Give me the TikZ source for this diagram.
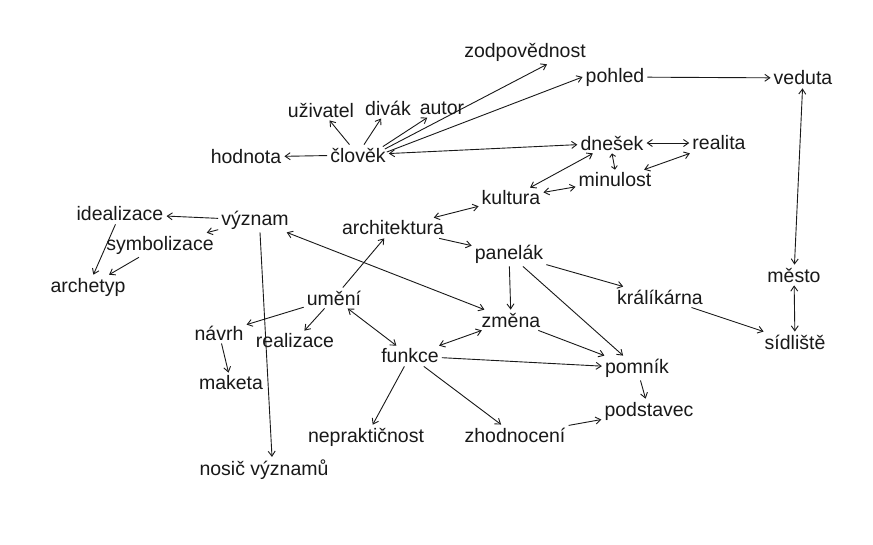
\documentclass[tikz,border=0pt]{standalone}
\usepackage{fontspec}
\setmainfont{Liberation Sans}
\usetikzlibrary{arrows.meta}
\begin{document}
\begin{tikzpicture}[x=1pt,y=-1pt,
  w/.style={inner sep=3pt, font=\fontsize{19.5}{22}\selectfont, text=black!90},
  e/.style={line width=0.9pt, draw=black!90, -{Straight Barb[length=5pt,width=7pt]}},
  ee/.style={line width=0.9pt, draw=black!90, {Straight Barb[length=5pt,width=7pt]}-{Straight Barb[length=5pt,width=7pt]}},
  es/.style={line width=0.9pt, draw=black!90, {Straight Barb[length=3pt,width=6pt]}-{Straight Barb[length=3pt,width=6pt]}}]
\useasboundingbox[fill=white] (0,0) rectangle (873,544);
% nodes
\node[w] (zodp) at (525,52) {zodpovědnost};
\node[w] (pohled) at (615,77) {pohled};
\node[w] (veduta) at (803,78) {veduta};
\node[w] (uziv) at (321,110) {uživatel};
\node[w] (divak) at (388,108) {divák};
\node[w] (autor) at (442,108) {autor};
\node[w] (hodnota) at (246,157) {hodnota};
\node[w] (clovek) at (358,155) {člověk};
\node[w] (dnesek) at (612,143) {dnešek};
\node[w] (realita) at (719,143) {realita};
\node[w] (minulost) at (615,180) {minulost};
\node[w] (kultura) at (511,198) {kultura};
\node[w] (ideal) at (120,214) {idealizace};
\node[w] (vyznam) at (255,220) {význam};
\node[w] (symbol) at (160,245) {symbolizace};
\node[w] (archit) at (393,228) {architektura};
\node[w] (archetyp) at (88,287) {archetyp};
\node[w] (panelak) at (509,254) {panelák};
\node[w] (umeni) at (334,298) {umění};
\node[w] (kralik) at (660,297) {králíkárna};
\node[w] (mesto) at (794,275) {město};
\node[w] (zmena) at (511,320) {změna};
\node[w] (navrh) at (219,333) {návrh};
\node[w] (realiz) at (295,341) {realizace};
\node[w] (sidliste) at (795,342) {sídliště};
\node[w] (funkce) at (410,356) {funkce};
\node[w] (pomnik) at (637,368) {pomník};
\node[w] (maketa) at (231,383) {maketa};
\node[w] (podstavec) at (649,411) {podstavec};
\node[w] (neprak) at (366,437) {nepraktičnost};
\node[w] (zhodn) at (515,435) {zhodnocení};
\node[w] (nosic) at (264,470) {nosič významů};
% edges
\draw[e] (clovek) -- (hodnota);
\draw[e] (clovek) -- (uziv);
\draw[e] ([xshift=6pt]clovek.north) -- (divak);
\draw[e] ([xshift=-6pt,yshift=-2pt]clovek.north east) -- (autor);
\draw[e] ([xshift=-4pt,yshift=6pt]clovek.east) -- ([xshift=22pt]zodp.south);
\draw[e] ([xshift=-2pt,yshift=3pt]clovek.east) -- (pohled.west);
\draw[ee] (clovek) -- (dnesek);
\draw[e] (pohled) -- (veduta);
\draw[ee] (dnesek) -- (realita);
\draw[es] (dnesek.south) -- (minulost.north);
\draw[ee] (dnesek) -- (kultura);
\draw[ee] (minulost) -- (realita);
\draw[ee] (kultura) -- (minulost);
\draw[ee] (kultura) -- (archit);
\draw[ee] (veduta) -- (mesto);
\draw[ee] (mesto) -- (sidliste);
\draw[e] (vyznam) -- (ideal);
\draw[e] (vyznam) -- (symbol);
\draw[e] (ideal) -- (archetyp);
\draw[e] (symbol) -- (archetyp);
\draw[e] ([xshift=5pt]vyznam.south) -- ([xshift=8pt]nosic.north);
\draw[ee] (vyznam) -- (zmena);
\draw[e] (umeni) -- (archit);
\draw[e] (archit) -- (panelak);
\draw[e] (umeni) -- (navrh);
\draw[e] (umeni) -- (realiz);
\draw[ee] (umeni) -- (funkce);
\draw[e] (navrh) -- (maketa);
\draw[e] (panelak) -- (zmena);
\draw[e] (panelak) -- (pomnik);
\draw[e] (panelak) -- (kralik);
\draw[e] (kralik) -- (sidliste);
\draw[ee] (zmena) -- (funkce);
\draw[e] (zmena) -- (pomnik);
\draw[e] (funkce) -- (pomnik);
\draw[e] (funkce) -- (neprak);
\draw[e] (funkce) -- (zhodn);
\draw[e] (pomnik) -- (podstavec);
\draw[e] (zhodn) -- (podstavec);
\end{tikzpicture}
\end{document}
